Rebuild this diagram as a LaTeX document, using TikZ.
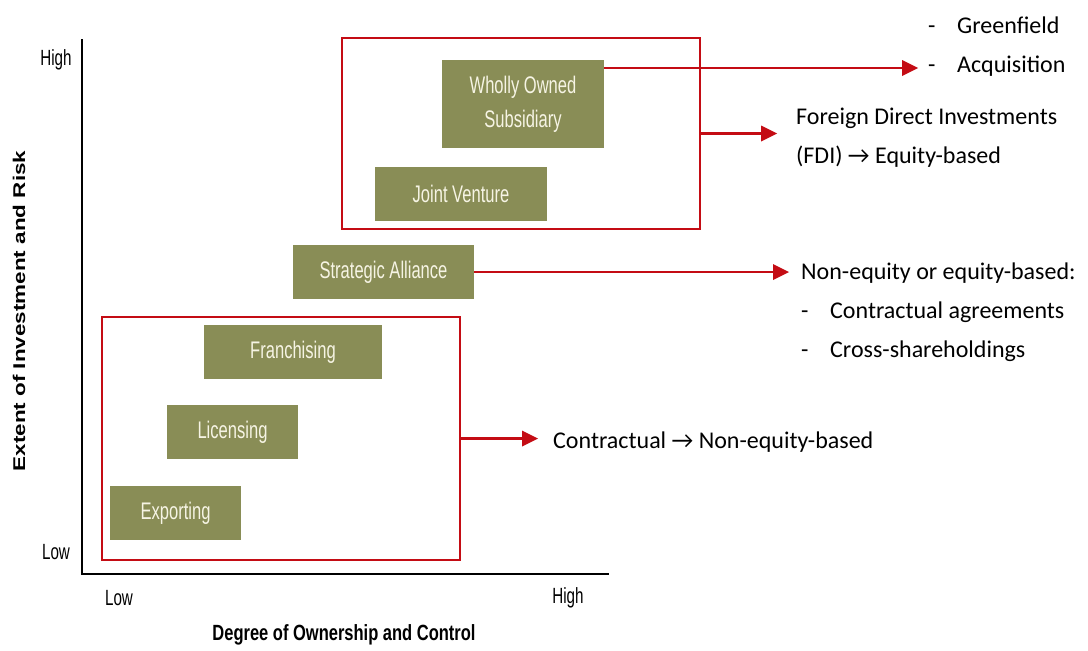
\documentclass[tikz,border=0pt]{standalone}
\usepackage{fontspec}
\setmainfont{Carlito}
\newfontfamily\narrowfont[FakeStretch=0.69]{Liberation Sans}
\newfontfamily\boldnarrowfont[FakeStretch=0.75]{Liberation Sans Bold}
\newfontfamily\boldwidefont[FakeStretch=1.32]{Liberation Sans Bold}
\usepackage{tikz}
\definecolor{olive}{RGB}{137,141,86}
\definecolor{darkred}{RGB}{196,12,20}
\definecolor{cream}{RGB}{246,244,228}

\begin{document}
\begin{tikzpicture}[x=1pt,y=-1pt]
\tikzstyle{every node}+=[inner sep=0pt]
\tikzstyle{gbox}=[fill=olive, text=cream, font=\narrowfont\fontsize{24}{34}\selectfont, align=center]
\tikzstyle{redbox}=[draw=darkred, line width=2.4pt]
\tikzstyle{redline}=[darkred, line width=2.6pt]
\tikzstyle{side}=[anchor=west, font=\fontsize{24}{39}\selectfont, align=left]
\tikzstyle{tick}=[font=\narrowfont\fontsize{22}{26}\selectfont]
\useasboundingbox (0,0) rectangle (1088,651);
\draw [black, line width=2.2pt] (82,39) -- (82,574) -- (609,574);
\node [tick] (yhigh) at (56,60) {High};
\node [tick] (ylow) at (56,552) {Low};
\node [tick] (xlow) at (119,598) {Low};
\node [tick] (xhigh) at (568,598) {High};
\node [rotate=90, font=\boldwidefont\fontsize{17}{21}\selectfont] (ylab) at (19,311) {Extent of Investment and Risk};
\node [font=\boldnarrowfont\fontsize{22}{26}\selectfont] (xlab) at (344,635) {Degree of Ownership and Control};
\node [redbox, minimum width=358pt, minimum height=191pt] (fdibox) at (521,133.5) {};
\node [redbox, minimum width=358pt, minimum height=243pt] (conbox) at (281,438.5) {};
\node [gbox, minimum width=162pt, minimum height=88pt] (wos) at (523,104) {Wholly Owned\\Subsidiary};
\node [gbox, minimum width=172pt, minimum height=54pt] (jv) at (461,194) {Joint Venture};
\node [gbox, minimum width=181pt, minimum height=54pt] (sa) at (383.5,272) {Strategic Alliance};
\node [gbox, minimum width=178pt, minimum height=54pt] (fr) at (293,352) {Franchising};
\node [gbox, minimum width=131pt, minimum height=54pt] (li) at (232.5,432) {Licensing};
\node [gbox, minimum width=131pt, minimum height=54pt] (ex) at (175.5,513) {Exporting};
\coordinate (gf) at (918,68);
\coordinate (fdi) at (777,133.5);
\coordinate (nq) at (789,272);
\coordinate (ct) at (538,438.5);
\draw [redline] (wos.east |- gf) -- ([xshift=-12pt]gf);
\fill [darkred] (gf) -- ++(-16,-8) -- ++(0,16) -- cycle;
\draw [redline] (fdibox.east) -- ([xshift=-12pt]fdi);
\fill [darkred] (fdi) -- ++(-16,-8) -- ++(0,16) -- cycle;
\draw [redline] (sa.east) -- ([xshift=-12pt]nq);
\fill [darkred] (nq) -- ++(-16,-8) -- ++(0,16) -- cycle;
\draw [redline] (conbox.east) -- ([xshift=-12pt]ct);
\fill [darkred] (ct) -- ++(-16,-8) -- ++(0,16) -- cycle;
\node [side] (acq) at (928,47) {\makebox[29pt][l]{-}Greenfield\\\makebox[29pt][l]{-}Acquisition};
\node [side] (fdit) at (796,138) {Foreign Direct Investments\\(FDI) → Equity-based};
\node [side] (nqt) at (801,312) {Non-equity or equity-based:\\\makebox[29pt][l]{-}Contractual agreements\\\makebox[29pt][l]{-}Cross-shareholdings};
\node [side] (ctt) at (553,442) {Contractual → Non-equity-based};
\end{tikzpicture}
\end{document}
